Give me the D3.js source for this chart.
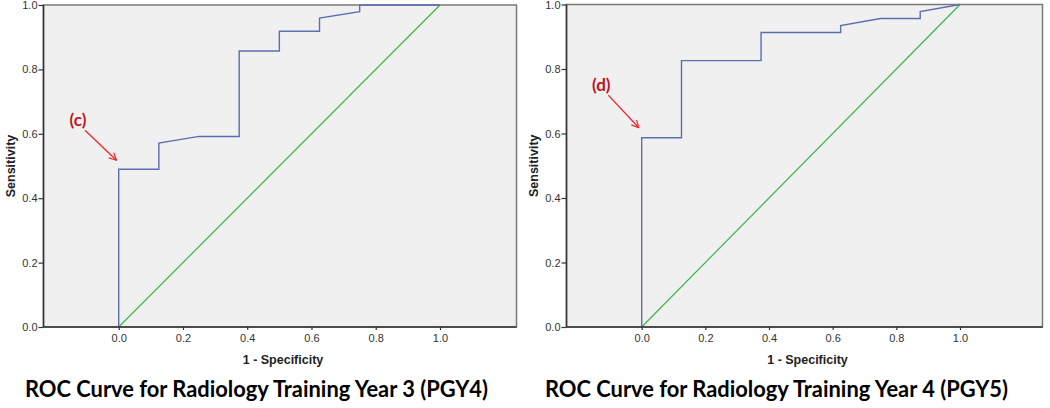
<!DOCTYPE html>
<html><head><meta charset="utf-8">
<script src="https://cdn.jsdelivr.net/npm/d3@7"></script>
<style>
html,body{margin:0;padding:0;background:#fff;}
svg{display:block;}
</style></head>
<body>
<svg id="chart" width="1050" height="408"></svg>
<script>
// ---- data ----
const tickValues = [0, 0.2, 0.4, 0.6, 0.8, 1.0];
const titles = ["ROC Curve for Radiology Training Year 3 (PGY4)", "ROC Curve for Radiology Training Year 4 (PGY5)"];
const labels = ["(c)", "(d)"];
// PGY4 ROC (1 - specificity, sensitivity)
const fprPGY4 = [0, 0, 0.125, 0.125, 0.25, 0.375, 0.375, 0.5, 0.5, 0.625, 0.625, 0.75, 0.75, 1];
const tprPGY4 = [0, 24/49, 24/49, 28/49, 29/49, 29/49, 42/49, 42/49, 45/49, 45/49, 47/49, 48/49, 1, 1];
// PGY5 ROC
const fprPGY5 = [0, 0, 0.125, 0.125, 0.375, 0.375, 0.625, 0.625, 0.75, 0.875, 0.875, 1];
const tprPGY5 = [0, 27/46, 27/46, 38/46, 38/46, 42/46, 42/46, 43/46, 44/46, 44/46, 45/46, 1];
// reference diagonal
const diagX = [0, 1];
const diagY = [0, 1];
// annotation arrow points (data coords: start near label, end at curve)
const arrowPGY4 = [[-0.105, 0.611], [-0.007, 0.518]];
const arrowPGY5 = [[-0.105, 0.719], [-0.009, 0.618]];

// ---- layout ----
const panels = [
  {fpr: fprPGY4, tpr: tprPGY4, title: titles[0], label: labels[0], arrow: arrowPGY4,
   frameL: 43.5, frameR: 516.5, top: 5, bottom: 327, x0: 118.7, x1: 440, titleX: 25, titleW: 463},
  {fpr: fprPGY5, tpr: tprPGY5, title: titles[1], label: labels[1], arrow: arrowPGY5,
   frameL: 566.5, frameR: 1042.5, top: 4.5, bottom: 327, x0: 641.7, x1: 960, titleX: 545, titleW: 463}
];

const svg = d3.select("#chart");
const defs = svg.append("defs");
defs.append("marker").attr("id","arr").attr("viewBox","0 0 10 10").attr("refX",9).attr("refY",5)
  .attr("markerWidth",9).attr("markerHeight",9).attr("markerUnits","userSpaceOnUse").attr("orient","auto")
  .append("path").attr("d","M1,1 L9,5 L1,9").attr("fill","none").attr("stroke","#e8282a").attr("stroke-width",1.3);

panels.forEach(p => {
  const x = d3.scaleLinear().domain([0,1]).range([p.x0, p.x1]);
  const y = d3.scaleLinear().domain([0,1]).range([p.bottom, p.top]);
  const g = svg.append("g");

  // plot background and frame
  g.append("rect").attr("x", p.frameL).attr("y", p.top).attr("width", p.frameR - p.frameL)
    .attr("height", p.bottom - p.top).attr("fill", "#f0f0f0").attr("stroke", "#7a7a7a").attr("stroke-width", 1.5);

  // diagonal
  const line = d3.line().x(d => x(d[0])).y(d => y(d[1]));
  g.append("path").datum(diagX.map((v,i)=>[v, diagY[i]])).attr("d", line)
    .attr("fill","none").attr("stroke","#3bb54a").attr("stroke-width",1.2);
  // ROC curve
  g.append("path").datum(p.fpr.map((v,i)=>[v, p.tpr[i]])).attr("d", line)
    .attr("fill","none").attr("stroke","#5a6fb0").attr("stroke-width",1.4);

  // axes
  const yAxis = d3.axisLeft(y).tickValues(tickValues).tickFormat(d3.format(".1f")).tickSize(5).tickPadding(1);
  const ya = g.append("g").attr("transform", `translate(${p.frameL},0)`).call(yAxis);
  const xAxis = d3.axisBottom(x).tickValues(tickValues).tickFormat(d3.format(".1f")).tickSize(3).tickPadding(4);
  const xa = g.append("g").attr("transform", `translate(0,${p.bottom})`).call(xAxis);
  [ya, xa].forEach(a => {
    a.select(".domain").remove();
    a.selectAll("line").attr("stroke","#333").attr("stroke-width",1.2);
    a.selectAll("text").attr("fill","#333").style("font-family","Arial, 'Liberation Sans', sans-serif").style("font-size","11px");
  });
  // darker left & bottom axis lines
  g.append("line").attr("x1", p.frameL).attr("x2", p.frameL).attr("y1", p.top).attr("y2", p.bottom)
    .attr("stroke","#333").attr("stroke-width",1.5);
  g.append("line").attr("x1", p.frameL).attr("x2", p.frameR).attr("y1", p.bottom).attr("y2", p.bottom)
    .attr("stroke","#333").attr("stroke-width",1.5);

  // axis titles
  g.append("text").attr("x", (p.frameL + p.frameR)/2 + 3).attr("y", 364).attr("text-anchor","middle")
    .style("font-family","Arial, 'Liberation Sans', sans-serif").style("font-size","12.5px").style("font-weight","bold")
    .attr("fill","#222").text("1 - Specificity");
  g.append("text").attr("transform", `translate(${p.frameL - 29},${(p.top+p.bottom)/2}) rotate(-90)`)
    .attr("text-anchor","middle")
    .style("font-family","Arial, 'Liberation Sans', sans-serif").style("font-size","12.5px").style("font-weight","bold")
    .attr("fill","#222").text("Sensitivity");

  // annotation
  const a0 = p.arrow[0], a1 = p.arrow[1];
  g.append("line").attr("x1", x(a0[0])).attr("y1", y(a0[1])).attr("x2", x(a1[0])).attr("y2", y(a1[1]))
    .attr("stroke","#e8282a").attr("stroke-width",1.3).attr("marker-end","url(#arr)");
  g.append("text").attr("x", x(a0[0]) - 7).attr("y", y(a0[1]) - 4).attr("text-anchor","middle")
    .style("font-family","Lato, 'Open Sans', sans-serif").style("font-size","17px").style("font-weight","bold")
    .attr("fill","#c0141c").text(p.label);

  // chart title
  g.append("text").attr("x", p.titleX).attr("y", 397)
    .attr("textLength", p.titleW).attr("lengthAdjust","spacingAndGlyphs")
    .style("font-family","Lato, 'Open Sans', sans-serif").style("font-size","22px").style("font-weight","bold")
    .attr("fill","#000").text(p.title);
});
</script>
</body></html>
